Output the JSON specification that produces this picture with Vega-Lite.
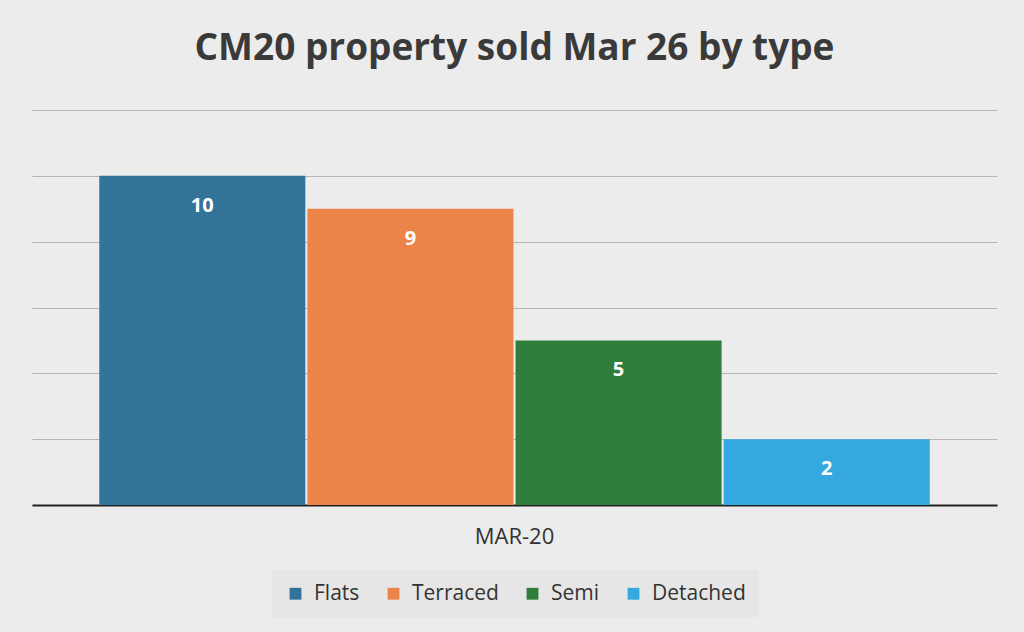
{
  "$schema": "https://vega.github.io/schema/vega-lite/v6.json",
  "autosize": "none",
  "width": 965,
  "height": 395,
  "padding": {"left": 32, "top": 110, "right": 27, "bottom": 127},
  "background": "#ececec",
  "config": {
    "view": {"stroke": null},
    "font": "Open Sans"
  },
  "title": {
    "text": "CM20 property sold Mar 26 by type",
    "fontSize": 37,
    "fontWeight": "bold",
    "font": "Open Sans",
    "color": "#3a3a3a",
    "anchor": "middle",
    "offset": 42
  },
  "data": {
    "values": [
      {"period": "MAR-20", "type": "Flats", "sold": 10},
      {"period": "MAR-20", "type": "Terraced", "sold": 9},
      {"period": "MAR-20", "type": "Semi", "sold": 5},
      {"period": "MAR-20", "type": "Detached", "sold": 2}
    ]
  },
  "encoding": {
    "x": {
      "field": "period",
      "type": "nominal",
      "title": null,
      "scale": {"paddingInner": 0, "paddingOuter": 0.081},
      "axis": {
        "domainColor": "#222222",
        "domainWidth": 2,
        "ticks": false,
        "labelAngle": 0,
        "labelFontSize": 22,
        "labelColor": "#333333",
        "labelPadding": 21
      }
    },
    "xOffset": {
      "field": "type",
      "type": "nominal",
      "sort": ["Flats", "Terraced", "Semi", "Detached"],
      "scale": {"paddingInner": 0.01, "paddingOuter": 0}
    },
    "y": {
      "field": "sold",
      "type": "quantitative",
      "scale": {"domain": [0, 12]},
      "axis": {
        "title": null,
        "labels": false,
        "ticks": false,
        "domain": false,
        "tickCount": 6,
        "gridColor": "#b5b5b5",
        "gridWidth": 1
      }
    }
  },
  "layer": [
    {
      "mark": {"type": "bar"},
      "encoding": {
        "color": {
          "field": "type",
          "type": "nominal",
          "sort": ["Flats", "Terraced", "Semi", "Detached"],
          "scale": {
            "domain": ["Flats", "Terraced", "Semi", "Detached"],
            "range": ["#33739a", "#ec8449", "#2f7d3b", "#35a8e0"]
          },
          "legend": {
            "title": null,
            "orient": "none",
            "direction": "horizontal",
            "legendX": 240,
            "legendY": 460,
            "fillColor": "#e6e6e6",
            "padding": 13,
            "symbolType": "square",
            "symbolSize": 140,
            "symbolStrokeWidth": 0,
            "labelFontSize": 21,
            "labelColor": "#333333",
            "labelOffset": 8,
            "columnPadding": 23
          }
        }
      }
    },
    {
      "mark": {
        "type": "text",
        "color": "white",
        "fontWeight": "bold",
        "fontSize": 20,
        "baseline": "middle",
        "dy": 30
      },
      "encoding": {
        "text": {"field": "sold", "type": "quantitative"}
      }
    }
  ]
}
